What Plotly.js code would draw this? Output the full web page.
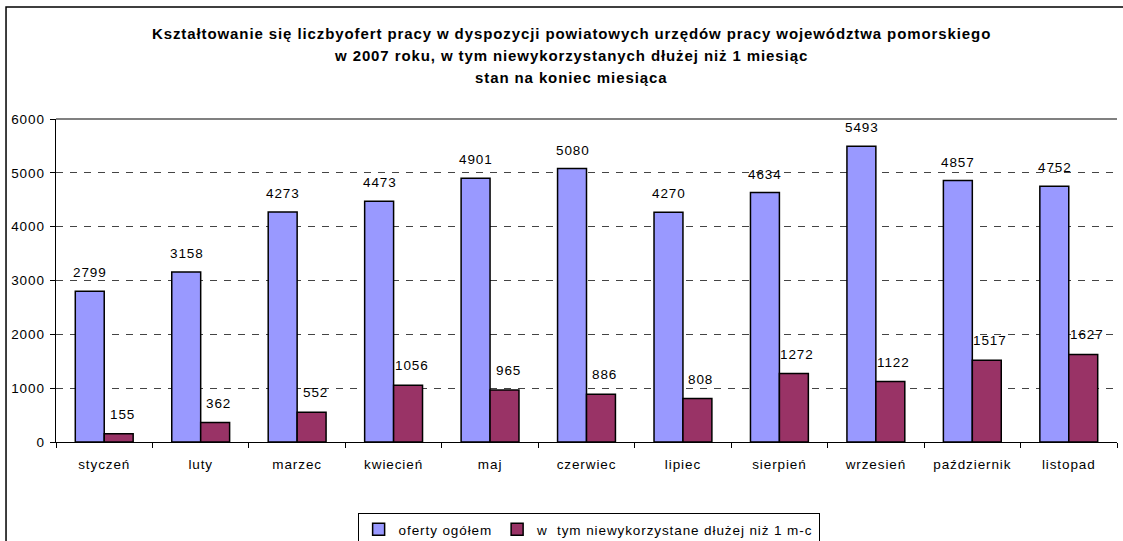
<!DOCTYPE html>
<html>
<head>
<meta charset="utf-8">
<script src="https://cdn.plot.ly/plotly-3.0.1.min.js"></script>
<style>
html,body{margin:0;padding:0;background:#fff;}
#chart{width:1123px;height:541px;}
text{letter-spacing:0.9px;}
</style>
</head>
<body>
<div id="chart"></div>
<script>
const months = ["styczeń","luty","marzec","kwiecień","maj","czerwiec","lipiec","sierpień","wrzesień","październik","listopad"];
const ofertyOgolem = [2799,3158,4273,4473,4901,5080,4270,4634,5493,4857,4752];
const niewykorzystane = [155,362,552,1056,965,886,808,1272,1122,1517,1627];
const seriesNames = ["oferty ogółem","w  tym niewykorzystane dłużej niż 1 m-c"];
const titleLines = [
  "Kształtowanie się liczbyofert pracy w dyspozycji powiatowych urzędów pracy województwa pomorskiego",
  "w 2007 roku, w tym niewykorzystanych dłużej niż 1 miesiąc",
  "stan na koniec miesiąca"
];

const font = "Liberation Sans, Arial, sans-serif";

const traces = [
  {
    type: "bar", x: months, y: ofertyOgolem, name: seriesNames[0],
    marker: {color: "#9999FF", line: {color: "#000", width: 1.5}}
  },
  {
    type: "bar", x: months, y: niewykorzystane, name: seriesNames[1],
    marker: {color: "#993366", line: {color: "#000", width: 1.5}}
  }
];

const annotations = [];
const titleY = [1.266, 1.198, 1.127];
titleLines.forEach((t, i) => annotations.push({
  text: "<b>" + t + "</b>", xref: "paper", yref: "paper", x: 0.4854, y: titleY[i],
  xanchor: "center", yanchor: "middle", showarrow: false,
  font: {family: font, size: 15, color: "#000"}
}));
months.forEach((m, i) => {
  annotations.push({
    text: String(ofertyOgolem[i]), x: m, y: ofertyOgolem[i], xref: "x", yref: "y",
    xshift: -14, yshift: 9, xanchor: "center", yanchor: "bottom", showarrow: false,
    font: {family: font, size: 13.5, color: "#000"}
  });
  annotations.push({
    text: String(niewykorzystane[i]), x: m, y: niewykorzystane[i], xref: "x", yref: "y",
    xshift: 18, yshift: 10, xanchor: "center", yanchor: "bottom", showarrow: false,
    font: {family: font, size: 13.5, color: "#000"}
  });
});

const layout = {
  width: 1123, height: 541,
  paper_bgcolor: "#fff", plot_bgcolor: "#fff",
  margin: {l: 56, r: 6, t: 119, b: 99, autoexpand: false},
  font: {family: font, size: 13.5, color: "#000"},
  barmode: "group", bargap: 0.4, bargroupgap: 0,
  xaxis: {
    type: "category", showline: true, linecolor: "#000", linewidth: 1,
    ticks: "outside", tickson: "boundaries", ticklen: 5, tickcolor: "#000",
    showgrid: false, tickfont: {family: font, size: 13.5}, ticklabelstandoff: 10
  },
  yaxis: {
    range: [0, 6000], dtick: 1000, showline: true, linecolor: "#000", linewidth: 1.5,
    ticks: "outside", ticklen: 5, tickcolor: "#000",
    showgrid: true, gridcolor: "#444", griddash: "7px,7px", gridwidth: 1,
    zeroline: false, tickfont: {family: font, size: 13.5}, ticklabelstandoff: 2
  },
  showlegend: true,
  legend: {
    orientation: "h", x: 0.502, xanchor: "center", y: -0.2198, yanchor: "top",
    bordercolor: "#000", borderwidth: 1, font: {family: font, size: 13.5},
    traceorder: "normal", itemwidth: 30
  },
  annotations: annotations,
  shapes: [
    {type: "line", xref: "paper", yref: "paper", x0: 0, x1: 1, y0: 1, y1: 1, line: {color: "#808080", width: 2}},
    {type: "rect", xref: "paper", yref: "paper", x0: -0.0471, x1: 1.05, y0: -0.4, y1: 1.3467, line: {color: "#000", width: 1.5}, layer: "below"}
  ]
};

Plotly.newPlot("chart", traces, layout, {displayModeBar: false, staticPlot: true});
</script>
</body>
</html>
